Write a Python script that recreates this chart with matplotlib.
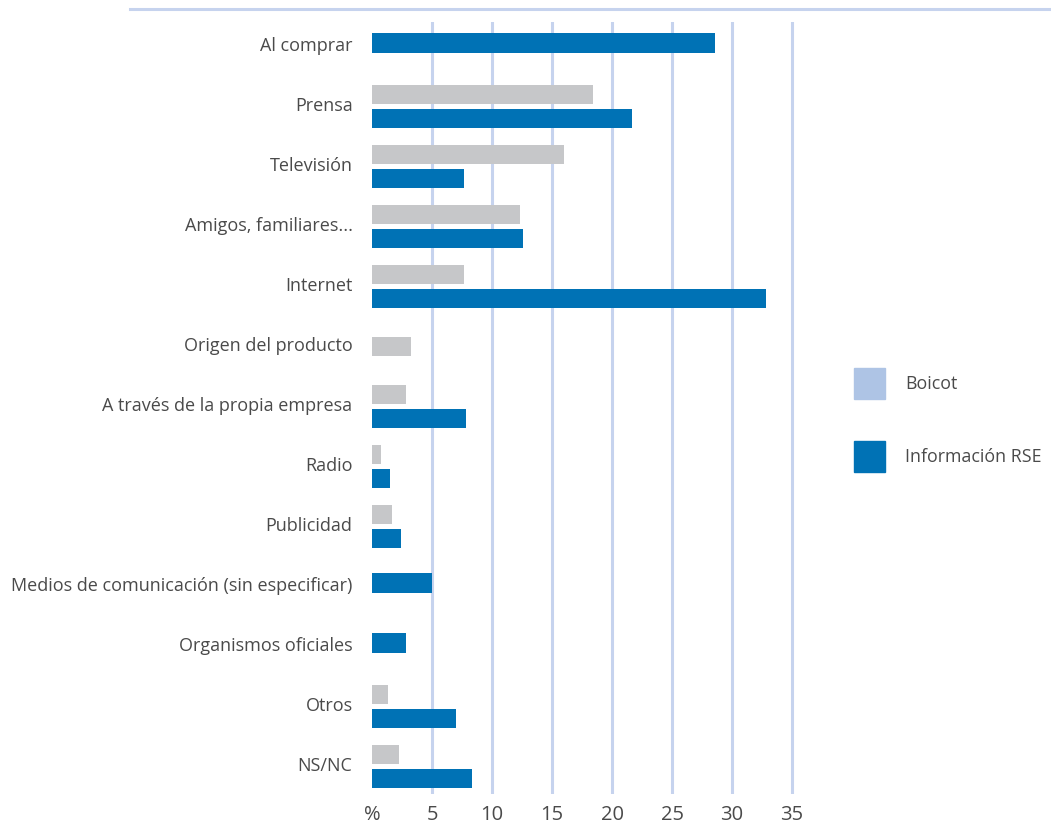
import numpy as np
import matplotlib.pyplot as plt
from matplotlib.patches import Rectangle
from matplotlib.lines import Line2D

plt.rcParams['font.family'] = ['Open Sans', 'DejaVu Sans']

categories = ['Al comprar', 'Prensa', 'Televisión', 'Amigos, familiares...', 'Internet',
              'Origen del producto', 'A través de la propia empresa', 'Radio', 'Publicidad',
              'Medios de comunicación (sin especificar)', 'Organismos oficiales', 'Otros', 'NS/NC']
boicot = [None, 18.4, 16.0, 12.3, 7.7, 3.25, 2.8, 0.75, 1.7, None, None, 1.3, 2.25]
info_rse = [28.6, 21.7, 7.7, 12.6, 32.8, None, 7.8, 1.5, 2.4, 5.0, 2.8, 7.0, 8.3]
xticks = [0, 5, 10, 15, 20, 25, 30, 35]
xtick_labels = ['%', '5', '10', '15', '20', '25', '30', '35']
legend_labels = ['Boicot', 'Información RSE']

GRAY = '#c6c7c9'
BLUE = '#0072b5'
GRID = '#c6d3ee'
LEGEND_GRAY = '#aec4e5'
TEXT = '#4a4a4a'

W, H = 1051, 828
fig = plt.figure(figsize=(W / 100, H / 100), dpi=100)
x0, x_max = 372, 36
ax = fig.add_axes([x0 / W, (H - 795) / H, x_max * 12 / W, (795 - 23) / H])

off, bh, shift = 0.2, 0.32, 0.06
for i, (b, r) in enumerate(zip(boicot, info_rse)):
    if b is not None and r is not None:
        ax.barh(i - off + shift, b, height=bh, color=GRAY, zorder=2)
        ax.barh(i + off + shift, r, height=bh, color=BLUE, zorder=2)
    elif b is not None:
        ax.barh(i + shift, b, height=bh, color=GRAY, zorder=2)
    else:
        ax.barh(i, r, height=bh, color=BLUE, zorder=2)

for xv in xticks[1:]:
    ax.axvline(xv, color=GRID, lw=2.2, zorder=1)

ax.set_xlim(0, x_max)
ax.set_ylim(12 + 31 / 60.17, -21 / 60.17)
ax.set_yticks(np.arange(len(categories)))
ax.set_yticklabels(categories, fontsize=13, color=TEXT)
ax.set_xticks(xticks)
ax.set_xticklabels(xtick_labels, fontsize=14.5, color=TEXT)
ax.tick_params(axis='y', length=0, pad=14)
ax.tick_params(axis='x', length=0, pad=7)
for s in ax.spines.values():
    s.set_visible(False)

fig.add_artist(Line2D([130 / W, 1.0], [(H - 10) / H] * 2, color=GRID, lw=2.2))

# legend drawn by hand
for k, (lab, col) in enumerate(zip(legend_labels, [LEGEND_GRAY, BLUE])):
    ytop = 369 + k * 73
    fig.add_artist(Rectangle((854 / W, (H - ytop - 31) / H), 31 / W, 31 / H,
                             color=col, transform=fig.transFigure))
    fig.text(905 / W, (H - ytop - 15.5) / H, lab, fontsize=12.8, color=TEXT,
             va='center', ha='left')

fig.savefig('out.png', dpi=100)
